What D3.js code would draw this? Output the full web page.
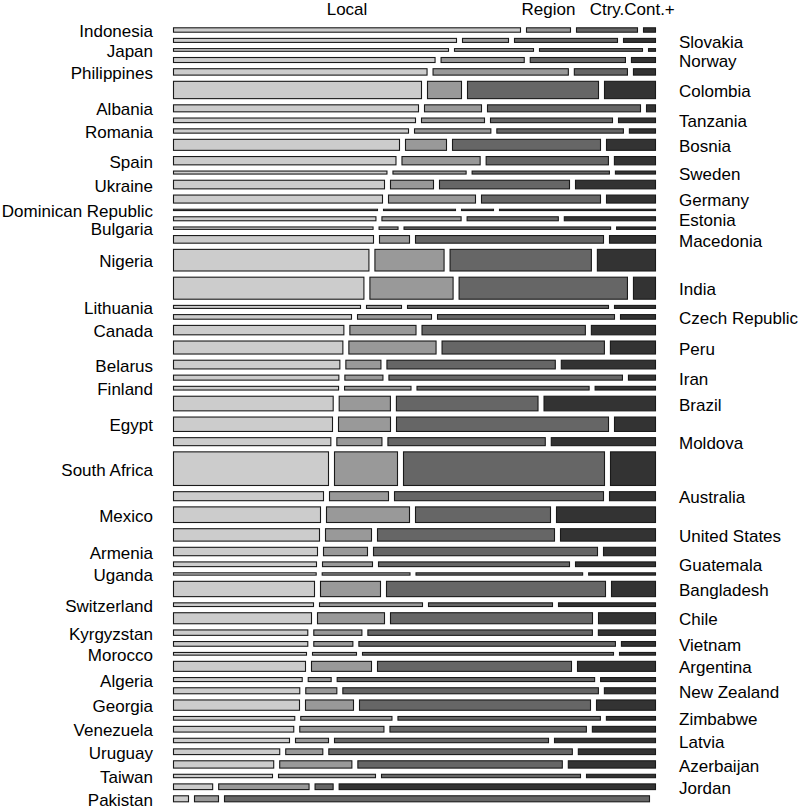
<!DOCTYPE html>
<html>
<head>
<meta charset="utf-8">
<script src="https://cdn.jsdelivr.net/npm/d3@7/dist/d3.min.js"></script>
<style>
  html, body { margin: 0; padding: 0; background: #ffffff; }
  text { font-family: "Liberation Sans", Arial, sans-serif; fill: #000; }
</style>
</head>
<body>
<svg id="chart" width="800" height="807"></svg>
<script>
// ---- data ----
const countries = ["Indonesia","Slovakia","Japan","Norway","Philippines","Colombia","Albania","Tanzania","Romania","Bosnia",
  "Spain","Sweden","Ukraine","Germany","Dominican Republic","Estonia","Bulgaria","Macedonia","Nigeria","India",
  "Lithuania","Czech Republic","Canada","Peru","Belarus","Iran","Finland","Brazil","Egypt","Moldova",
  "South Africa","Australia","Mexico","United States","Armenia","Guatemala","Uganda","Bangladesh","Switzerland","Chile",
  "Kyrgyzstan","Vietnam","Morocco","Argentina","Algeria","New Zealand","Georgia","Zimbabwe","Venezuela","Latvia",
  "Uruguay","Azerbaijan","Taiwan","Jordan","Pakistan"];
const labelSide = countries.map((c, i) => (i % 2 === 0 ? "left" : "right"));
// row weights (relative sample sizes)
const rowSize = [44,40,27,50,64,173,70,46,43,110, 83,30,86,80,13,40,24,76,216,220,
  30,46,94,130,87,50,37,146,144,80, 336,90,156,124,84,47,23,153,37,110,
  54,47,27,100,40,60,103,37,57,44, 57,73,34,57,60];
const categories = ["Local","Region","Ctry.","Cont.+"];
// shares per row (relative)
const local = [347,283,275,261,253,248,245,242,234,226, 222,213,211,209,204,202,200,200,195,190,
  187,178,170,169,166,165,164,159,159,157, 155,150,147,146,144,143,143,141,140,138,
  134,134,133,132,129,126,126,121,120,116, 106,100,99,39,15];
const region = [44,46,79,83,135,34,57,63,76,41, 78,73,43,87,72,79,19,30,69,83,
  35,74,66,87,35,38,66,51,52,45, 63,59,83,46,44,50,88,60,103,67,
  48,39,44,60,23,31,48,91,84,33, 37,72,97,90,24];
const country = [61,103,103,95,53,131,153,122,126,148, 122,137,130,119,32,91,207,188,141,168,
  201,177,163,162,168,233,171,141,212,157, 201,209,135,177,224,191,167,219,124,202,
  224,256,251,194,258,255,231,202,196,214, 243,204,199,18,425];
const continent = [12,32,7,24,22,51,9,37,26,49, 41,40,80,49,156,91,39,46,58,22,
  41,35,64,45,94,27,60,111,41,104, 45,46,99,95,52,80,67,44,97,57,
  57,34,36,78,55,51,59,49,63,101, 77,87,69,315,0];
const fills = ["#cccccc","#999999","#666666","#333333"];

// ---- layout ----
const svg = d3.select("#chart");
const plot = { left: 173.5, right: 655.5, top: 27.8, bottom: 801.8 };
const rowGap = 6.2, colGap = 6;
const nRows = countries.length;
const totalN = d3.sum(rowSize);
const yScale = d3.scaleLinear().domain([0, totalN])
  .range([0, (plot.bottom - plot.top) - rowGap * (nRows - 1)]);
const xScale = d3.scaleLinear().domain([0, 1])
  .range([0, (plot.right - plot.left) - colGap * (categories.length - 1)]);

const rows = countries.map((name, i) => {
  const vals = [local[i], region[i], country[i], continent[i]];
  const tot = d3.sum(vals);
  return { name, i, vals: vals.map(v => v / tot), n: rowSize[i] };
});
let cum = 0;
rows.forEach((r, i) => {
  r.y0 = plot.top + yScale(cum) + rowGap * i;
  r.h = yScale(r.n);
  cum += r.n;
  let c = 0;
  r.cells = r.vals.map((v, k) => {
    const x0 = plot.left + xScale(c) + colGap * k;
    c += v;
    return { k, x0, w: xScale(v) };
  });
});

const g = svg.append("g");
const rowG = g.selectAll("g.row").data(rows).join("g").attr("class", "row");
rowG.selectAll("rect").data(d => d.cells.map(c => ({ ...c, y0: d.y0, h: d.h })))
  .join("rect")
  .attr("x", d => d.x0)
  .attr("y", d => d.y0)
  .attr("width", d => d.w)
  .attr("height", d => d.h)
  .attr("fill", d => fills[d.k])
  .attr("stroke", "#1a1a1a")
  .attr("stroke-width", 1.1);

// country labels
svg.append("g").selectAll("text").data(rows).join("text")
  .attr("x", d => labelSide[d.i] === "left" ? 153 : 679)
  .attr("y", d => d.y0 + d.h / 2)
  .attr("dy", "0.42em")
  .attr("text-anchor", d => labelSide[d.i] === "left" ? "end" : "start")
  .attr("font-size", 17)
  .text(d => d.name);

// category labels at top, centred on the first row's cells
const first = rows[0];
svg.append("g").selectAll("text").data(categories).join("text")
  .attr("x", (d, k) => first.cells[k].x0 + first.cells[k].w / 2)
  .attr("y", 15)
  .attr("text-anchor", "middle")
  .attr("font-size", 17)
  .text(d => d);
</script>
</body>
</html>
